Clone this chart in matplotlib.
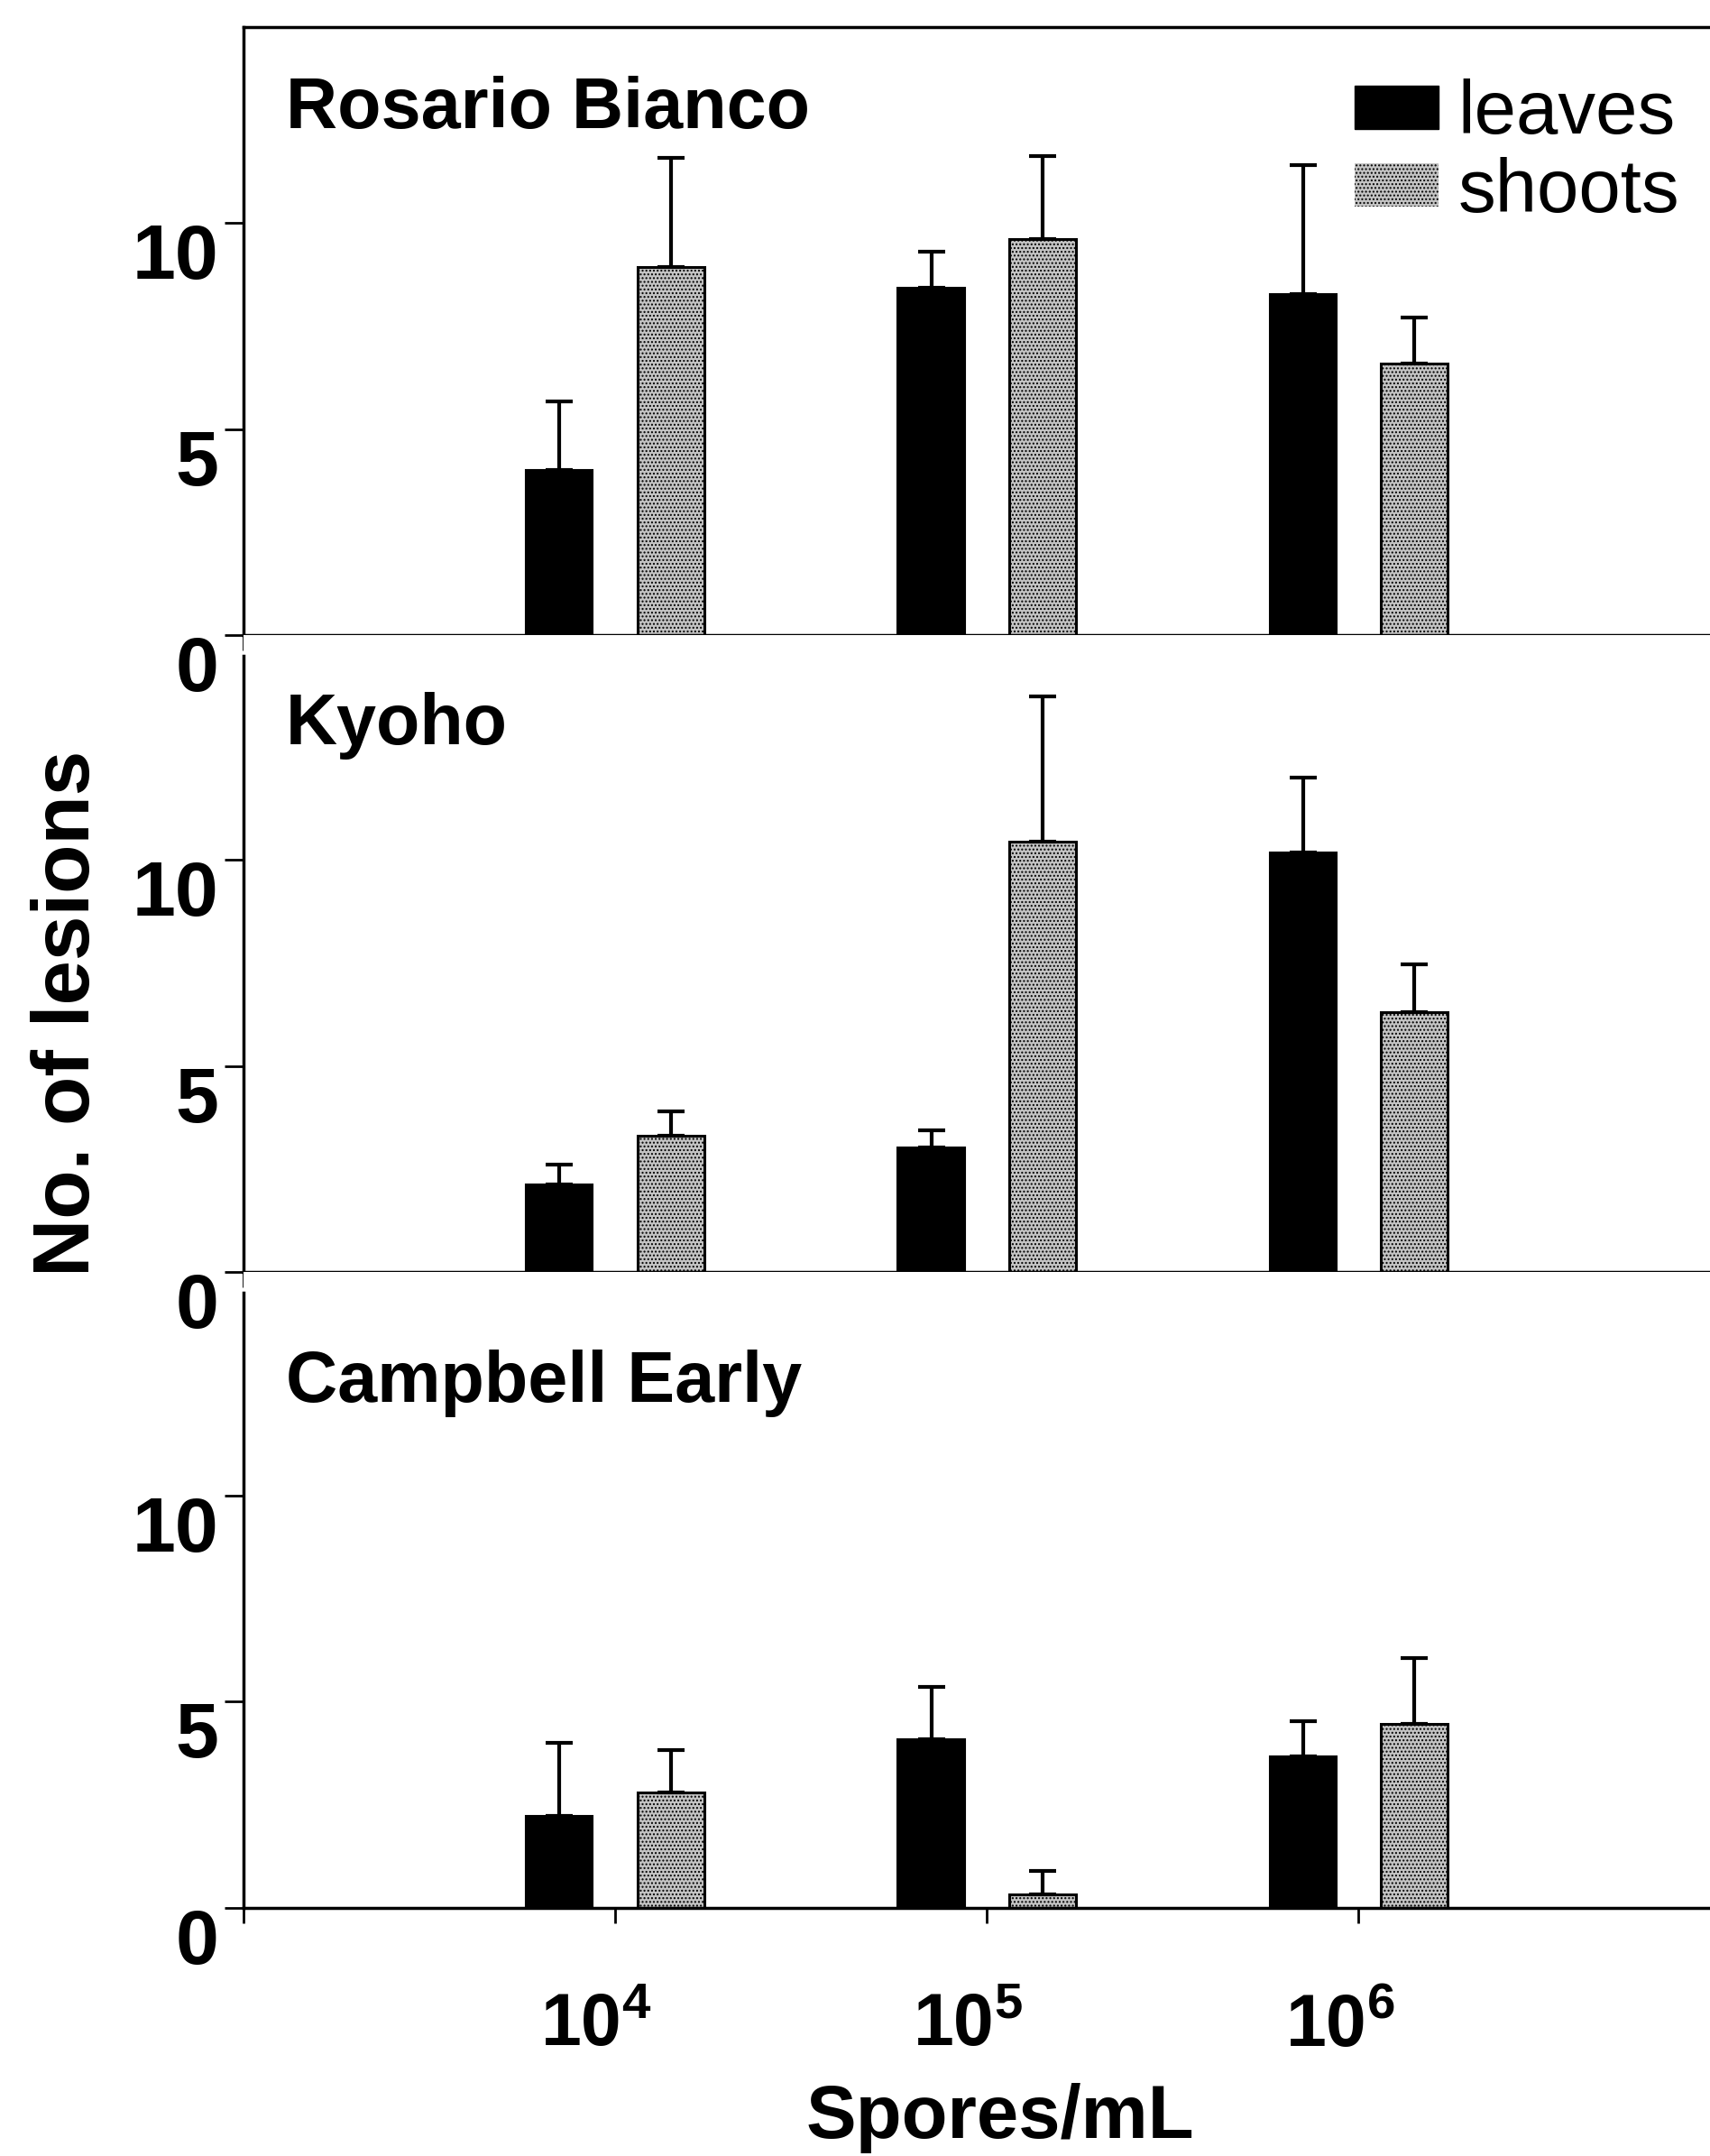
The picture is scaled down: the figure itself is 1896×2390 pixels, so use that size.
import numpy as np
import matplotlib
matplotlib.use('Agg')
import matplotlib.pyplot as plt
import matplotlib.transforms as mtransforms
from matplotlib.patches import Patch

plt.rcParams['font.family'] = ['Liberation Sans', 'DejaVu Sans']
plt.rcParams['font.weight'] = 'bold'
plt.rcParams['mathtext.fontset'] = 'custom'
plt.rcParams['mathtext.rm'] = 'Liberation Sans:bold'
plt.rcParams['mathtext.bf'] = 'Liberation Sans:bold'
plt.rcParams['hatch.linewidth'] = 1.0

# data
cultivars = ['Rosario Bianco', 'Kyoho', 'Campbell Early']
log_conc = [4, 5, 6]
conc_labels = [r'$\mathbf{10^{4}}$', r'$\mathbf{10^{5}}$', r'$\mathbf{10^{6}}$']

leaves = [[4.0, 8.43, 8.27], [2.13, 3.03, 10.17], [2.23, 4.1, 3.67]]
leaves_err = [[1.67, 0.87, 3.13], [0.47, 0.4, 1.83], [1.77, 1.27, 0.86]]
shoots = [[8.93, 9.6, 6.6], [3.3, 10.43, 6.3], [2.8, 0.33, 4.47]]
shoots_err = [[2.64, 2.03, 1.1], [0.6, 3.54, 1.17], [1.03, 0.57, 1.6]]

shoot_face = '#c4c4c4'

fig = plt.figure(figsize=(18.96, 23.90), dpi=100)

# axes boxes [left, bottom, width, height], ymax of each panel, title height
boxes = [[0.1424, 0.7054, 0.8576, 0.2820],
         [0.1424, 0.4100, 0.8576, 0.2954],
         [0.1424, 0.1151, 0.8576, 0.2950]]
ymaxs = [14.75, 15.45, 15.43]
title_y = [0.834, 0.829, 0.796]

w = 0.18
off = 0.15
x = np.array(log_conc, dtype=float)

for i in range(3):
    ax = fig.add_axes(boxes[i])
    ax.bar(x - off, leaves[i], w, color='black', edgecolor='black', linewidth=1.5, zorder=2)
    ax.bar(x + off, shoots[i], w, color=shoot_face, edgecolor='black', linewidth=2.2,
           hatch='....', zorder=2)
    ax.errorbar(x - off, leaves[i], yerr=[np.zeros(3), leaves_err[i]], fmt='none',
                ecolor='black', elinewidth=3, capsize=11, capthick=3, zorder=3)
    ax.errorbar(x + off, shoots[i], yerr=[np.zeros(3), shoots_err[i]], fmt='none',
                ecolor='black', elinewidth=3, capsize=11, capthick=3, zorder=3)

    ax.set_xlim(3, 6.945)
    ax.set_ylim(0, ymaxs[i])
    ax.set_yticks([0, 5, 10])
    ax.set_xticks([3] + log_conc)
    ax.spines['right'].set_visible(False)
    for s in ['left', 'bottom', 'top']:
        ax.spines[s].set_linewidth(2.5)
    if i > 0:
        ax.spines['top'].set_visible(False)
        ax.spines['left'].set_bounds(0, ymaxs[i] - 0.5)
    ax.tick_params(axis='y', direction='out', length=15, width=2, pad=5, labelsize=62)
    ax.tick_params(axis='x', direction='out', length=12, width=2, pad=56, labelsize=58)
    for lab in ax.get_yticklabels():
        lab.set_verticalalignment('top')
        lab.set_fontweight('bold')
    if i == 2:
        ax.set_xticklabels([''] + conc_labels)
        shift = mtransforms.ScaledTranslation(-0.21, 0, fig.dpi_scale_trans)
        for lab in ax.get_xticklabels():
            lab.set_horizontalalignment('center')
            lab.set_transform(lab.get_transform() + shift)
    else:
        ax.set_xticklabels([])

    ax.text(0.029, title_y[i], cultivars[i], transform=ax.transAxes,
            fontsize=57, fontweight='bold', va='baseline', ha='left')

    if i == 0:
        handles = [Patch(facecolor='black', edgecolor='black'),
                   Patch(facecolor=shoot_face, edgecolor='black', linewidth=0, hatch='....')]
        ax.legend(handles, ['leaves', 'shoots'], loc='upper right',
                  bbox_to_anchor=(0.979, 0.915), frameon=False,
                  prop={'size': 60, 'weight': 'normal'}, handlelength=1.12,
                  handleheight=0.52, handletextpad=0.25, labelspacing=0.1,
                  borderpad=0, borderaxespad=0)

fig.text(0.040, 0.530, 'No. of lesions', rotation=90, fontsize=64,
         fontweight='bold', ha='center', va='center')
fig.text(0.585, 0.0084, 'Spores/mL', fontsize=60, fontweight='bold',
         ha='center', va='baseline')

fig.savefig('out.png', dpi=100)
